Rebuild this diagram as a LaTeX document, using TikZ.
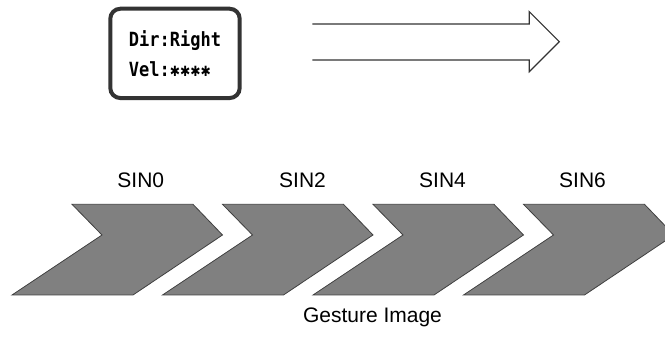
\documentclass[tikz,border=0pt]{standalone}
\usepackage{fontspec}
\setmainfont{Liberation Sans}
\newfontfamily\boxfont{DejaVu Sans Mono}
\newfontfamily\starfont{DejaVu Sans}
\usepackage{tikz}
\newcommand{\velstar}{\makebox[0.602em]{\starfont\scalebox{0.72}{✱}}}

\begin{document}
\begin{tikzpicture}[x=1pt,y=-1pt]
  \tikzset{LBL/.style={font=\fontsize{21}{24}\selectfont, inner sep=0pt},
           CHV/.style={fill=black!50, draw=black!75, line width=0.8pt, line join=miter}}

  \useasboundingbox (0,0) rectangle (665,342);
  \clip (0,0) rectangle (665,342);

  % status box
  \node[draw=black!80, line width=4pt, rounded corners=10pt,
        minimum width=129.4pt, minimum height=89.3pt, align=left,
        font=\boxfont\bfseries\fontsize{17}{30}\selectfont] (state) at (175,53.4)
        {\scalebox{1}[1.15]{Dir:Right}\\\scalebox{1}[1.15]{Vel:\velstar\velstar\velstar\velstar}};

  % direction arrow
  \coordinate (a0) at (312.3,24);
  \coordinate (a1) at (312.3,60);
  \draw[black!80, line width=1.2pt, line join=miter]
        (a0) -- (529.3,24) -- (529.3,11.7) -- (559.3,41.7)
        -- (529.3,71.7) -- (529.3,60) -- (a1);

  % gesture chevrons
  \foreach \i in {0,...,3}{
    \begin{scope}[xshift=\i*150.5]
      \draw[CHV] (72,204.3) -- (193,204.3) -- (222.5,235) -- (133,295)
                 -- (12,295) -- (102,235) -- cycle;
    \end{scope}
  }

  \node[LBL] (s0) at (140.8,180) {SIN0};
  \node[LBL] (s2) at (302.5,180) {SIN2};
  \node[LBL] (s4) at (442.5,180) {SIN4};
  \node[LBL] (s6) at (582.5,180) {SIN6};

  \node[LBL] (title) at (372.5,317) {Gesture Image};
\end{tikzpicture}
\end{document}
